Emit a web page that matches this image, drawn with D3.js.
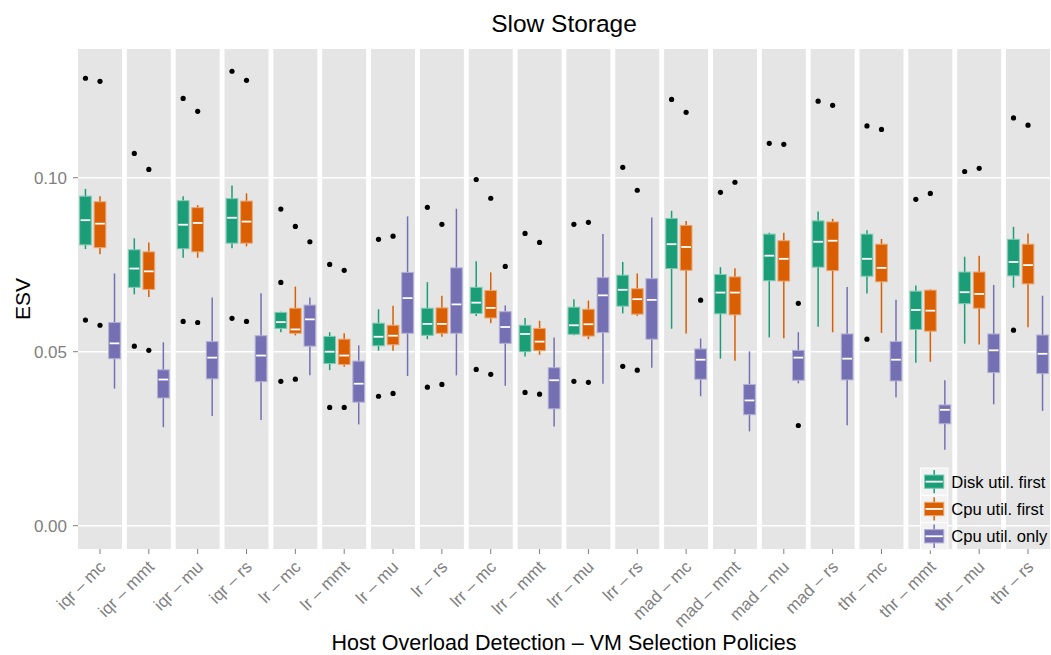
<!DOCTYPE html>
<html lang="en">

<head>
    <meta charset="UTF-8">
    <title>Slow Storage</title>
    <script src="https://d3js.org/d3.v7.min.js"></script>
    <style>
        body { margin: 0; background: #ffffff; }
        text { font-family: "Liberation Sans", Arial, sans-serif; }
    </style>
</head>

<body>
    <div id="chart"></div>
    <script>

        // categories (one facet each)
        const policies = [
            "iqr – mc", "iqr – mmt", "iqr – mu", "iqr – rs",
            "lr – mc", "lr – mmt", "lr – mu", "lr – rs",
            "lrr – mc", "lrr – mmt", "lrr – mu", "lrr – rs",
            "mad – mc", "mad – mmt", "mad – mu", "mad – rs",
            "thr – mc", "thr – mmt", "thr – mu", "thr – rs"
        ];
        const groups = ["Disk util. first", "Cpu util. first", "Cpu util. only"];
        const yTicks = [0, 0.05, 0.10];

        // [lower whisker, q1, median, q3, upper whisker] per policy
        const diskFirst = [
            [0.0795, 0.0807, 0.0878, 0.0947, 0.0968], [0.0665, 0.0685, 0.0739, 0.0793, 0.0826],
            [0.0770, 0.0796, 0.0865, 0.0934, 0.0947], [0.0797, 0.0812, 0.0885, 0.0940, 0.0978],
            [0.0556, 0.0567, 0.0585, 0.0613, 0.0615], [0.0447, 0.0466, 0.0500, 0.0544, 0.0556],
            [0.0503, 0.0517, 0.0543, 0.0582, 0.0622], [0.0536, 0.0547, 0.0580, 0.0625, 0.0700],
            [0.0603, 0.0610, 0.0641, 0.0685, 0.0760], [0.0486, 0.0500, 0.0551, 0.0576, 0.0597],
            [0.0547, 0.0550, 0.0576, 0.0628, 0.0651], [0.0610, 0.0631, 0.0678, 0.0720, 0.0758],
            [0.0566, 0.0739, 0.0809, 0.0883, 0.0905], [0.0480, 0.0609, 0.0670, 0.0722, 0.0743],
            [0.0541, 0.0704, 0.0776, 0.0838, 0.0842], [0.0572, 0.0743, 0.0816, 0.0876, 0.0903],
            [0.0667, 0.0717, 0.0767, 0.0838, 0.0849], [0.0468, 0.0564, 0.0620, 0.0674, 0.0690],
            [0.0523, 0.0638, 0.0671, 0.0729, 0.0773], [0.0684, 0.0718, 0.0758, 0.0823, 0.0859]
        ];
        const cpuFirst = [
            [0.0780, 0.0799, 0.0868, 0.0931, 0.0947], [0.0657, 0.0679, 0.0731, 0.0787, 0.0814],
            [0.0770, 0.0787, 0.0870, 0.0914, 0.0921], [0.0803, 0.0812, 0.0874, 0.0933, 0.0955],
            [0.0547, 0.0553, 0.0564, 0.0625, 0.0687], [0.0457, 0.0463, 0.0489, 0.0536, 0.0553],
            [0.0503, 0.0520, 0.0546, 0.0576, 0.0632], [0.0543, 0.0553, 0.0580, 0.0626, 0.0661],
            [0.0582, 0.0597, 0.0626, 0.0676, 0.0728], [0.0491, 0.0503, 0.0529, 0.0567, 0.0589],
            [0.0536, 0.0545, 0.0579, 0.0622, 0.0647], [0.0603, 0.0608, 0.0651, 0.0681, 0.0725],
            [0.0552, 0.0734, 0.0801, 0.0863, 0.0876], [0.0474, 0.0606, 0.0670, 0.0715, 0.0740],
            [0.0539, 0.0703, 0.0767, 0.0819, 0.0842], [0.0556, 0.0733, 0.0819, 0.0873, 0.0882],
            [0.0554, 0.0701, 0.0741, 0.0809, 0.0824], [0.0471, 0.0559, 0.0618, 0.0677, 0.0679],
            [0.0521, 0.0625, 0.0666, 0.0729, 0.0776], [0.0570, 0.0695, 0.0749, 0.0809, 0.0840]
        ];
        const cpuOnly = [
            [0.0394, 0.0480, 0.0524, 0.0584, 0.0725], [0.0283, 0.0367, 0.0420, 0.0448, 0.0527],
            [0.0315, 0.0422, 0.0483, 0.0529, 0.0656], [0.0304, 0.0414, 0.0489, 0.0546, 0.0668],
            [0.0432, 0.0516, 0.0593, 0.0634, 0.0656], [0.0291, 0.0355, 0.0408, 0.0473, 0.0518],
            [0.0430, 0.0553, 0.0654, 0.0728, 0.0889], [0.0432, 0.0553, 0.0636, 0.0741, 0.0911],
            [0.0402, 0.0524, 0.0571, 0.0615, 0.0633], [0.0285, 0.0336, 0.0418, 0.0454, 0.0541],
            [0.0408, 0.0555, 0.0662, 0.0713, 0.0838], [0.0454, 0.0536, 0.0649, 0.0710, 0.0886],
            [0.0372, 0.0421, 0.0477, 0.0508, 0.0538], [0.0271, 0.0319, 0.0360, 0.0406, 0.0501],
            [0.0409, 0.0418, 0.0483, 0.0504, 0.0556], [0.0289, 0.0419, 0.0480, 0.0551, 0.0686],
            [0.0369, 0.0416, 0.0477, 0.0529, 0.0649], [0.0218, 0.0293, 0.0333, 0.0347, 0.0418],
            [0.0349, 0.0440, 0.0504, 0.0551, 0.0692], [0.0330, 0.0437, 0.0494, 0.0548, 0.0661]
        ];

        // outliers per policy
        const diskFirstOut = [
            [0.1286, 0.0591], [0.1070, 0.0516], [0.1228, 0.0587], [0.1306, 0.0596],
            [0.0910, 0.0699, 0.0415], [0.0751, 0.0340], [0.0823, 0.0372], [0.0915, 0.0398],
            [0.0995, 0.0449], [0.0840, 0.0383], [0.0866, 0.0415], [0.1030, 0.0458],
            [0.1225], [0.0958], [0.1099], [0.1220],
            [0.1149, 0.0536], [0.0938], [0.1018], [0.1172, 0.0562]
        ];
        const cpuFirstOut = [
            [0.1277, 0.0576], [0.1024, 0.0504], [0.1191, 0.0584], [0.1280, 0.0587],
            [0.0860, 0.0421], [0.0734, 0.0340], [0.0832, 0.0380], [0.0866, 0.0406],
            [0.0941, 0.0435], [0.0814, 0.0378], [0.0872, 0.0412], [0.0964, 0.0447],
            [0.1188], [0.0987], [0.1096], [0.1208],
            [0.1139], [0.0955], [0.1027], [0.1151]
        ];
        const cpuOnlyOut = [
            [], [], [], [],
            [0.0816], [], [], [],
            [0.0745], [], [], [],
            [0.0648], [], [0.0639, 0.0288], [],
            [], [], [], []
        ];

        const colors = ["#1b9e77", "#d95f02", "#7570b3"];

        const width = 1051, height = 655;
        const margin = { top: 49, right: 1, bottom: 106, left: 78 };

        const svg = d3.select("#chart")
            .append("svg")
            .attr("width", width)
            .attr("height", height);

        // scales
        const x = d3.scaleBand()
            .domain(policies)
            .range([margin.left, width - margin.right])
            .paddingInner(0.1)
            .paddingOuter(0);

        const xg = d3.scaleBand()
            .domain(groups)
            .range([1.1, x.bandwidth() - 1.1])
            .paddingInner(0.124);

        const y = d3.scaleLinear()
            .domain([-0.0067, 0.137])
            .range([height - margin.bottom, margin.top]);

        const color = d3.scaleOrdinal().domain(groups).range(colors);
        const edge = g => d3.interpolateRgb(color(g), "#ffffff")(0.45);

        // build box rows
        const stats = [diskFirst, cpuFirst, cpuOnly];
        const outs = [diskFirstOut, cpuFirstOut, cpuOnlyOut];
        const boxes = [];
        const points = [];
        policies.forEach((p, i) => {
            groups.forEach((g, j) => {
                const s = stats[j][i];
                boxes.push({ policy: p, group: g, lo: s[0], q1: s[1], med: s[2], q3: s[3], hi: s[4] });
                outs[j][i].forEach(v => points.push({ policy: p, group: g, value: v }));
            });
        });

        // facet panels
        const facet = svg.selectAll(".facet")
            .data(policies)
            .join("g")
            .attr("class", "facet")
            .attr("transform", d => `translate(${x(d)},0)`);

        facet.append("rect")
            .attr("x", 0)
            .attr("y", margin.top)
            .attr("width", x.bandwidth())
            .attr("height", height - margin.bottom - margin.top)
            .attr("fill", "#e5e5e5");

        facet.selectAll(".grid")
            .data(yTicks)
            .join("line")
            .attr("class", "grid")
            .attr("x1", 0)
            .attr("x2", x.bandwidth())
            .attr("y1", d => y(d))
            .attr("y2", d => y(d))
            .attr("stroke", "#ffffff")
            .attr("stroke-width", 1.5);

        // boxes
        const bw = xg.bandwidth();
        const bx = d => x(d.policy) + xg(d.group);
        const cx = d => bx(d) + bw / 2;

        const box = svg.append("g").selectAll("g")
            .data(boxes)
            .join("g");

        box.append("line")
            .attr("x1", cx).attr("x2", cx)
            .attr("y1", d => y(d.hi)).attr("y2", d => y(d.lo))
            .attr("stroke", d => color(d.group))
            .attr("stroke-width", 1.5);

        box.append("rect")
            .attr("x", d => bx(d) + 0.5)
            .attr("width", bw - 1)
            .attr("y", d => y(d.q3))
            .attr("height", d => Math.max(1, y(d.q1) - y(d.q3)))
            .attr("fill", d => color(d.group))
            .attr("stroke", d => edge(d.group))
            .attr("stroke-width", 1);

        box.append("line")
            .attr("x1", d => bx(d) + 1.5)
            .attr("x2", d => bx(d) + bw - 1.5)
            .attr("y1", d => y(d.med)).attr("y2", d => y(d.med))
            .attr("stroke", "#ffffff")
            .attr("stroke-width", 1.8);

        // outliers
        svg.append("g").selectAll("circle")
            .data(points)
            .join("circle")
            .attr("cx", cx)
            .attr("cy", d => y(d.value))
            .attr("r", 2.6)
            .attr("fill", "#000000");

        // y axis
        const yAxis = svg.append("g");
        yAxis.selectAll("line")
            .data(yTicks)
            .join("line")
            .attr("x1", margin.left - 5).attr("x2", margin.left)
            .attr("y1", d => y(d)).attr("y2", d => y(d))
            .attr("stroke", "#7f7f7f")
            .attr("stroke-width", 1);
        yAxis.selectAll("text")
            .data(yTicks)
            .join("text")
            .attr("x", margin.left - 11)
            .attr("y", d => y(d))
            .attr("dy", "0.36em")
            .attr("text-anchor", "end")
            .attr("font-size", 17)
            .attr("fill", "#7f7f7f")
            .text(d3.format(".2f"));

        // x axis
        const xAxis = svg.append("g");
        const base = height - margin.bottom;
        xAxis.selectAll("line")
            .data(policies)
            .join("line")
            .attr("x1", d => x(d) + x.bandwidth() / 2)
            .attr("x2", d => x(d) + x.bandwidth() / 2)
            .attr("y1", base).attr("y2", base + 5)
            .attr("stroke", "#7f7f7f")
            .attr("stroke-width", 1);
        xAxis.selectAll("text")
            .data(policies)
            .join("text")
            .attr("transform", d => `translate(${x(d) + x.bandwidth() / 2 + 6.5},${base + 19}) rotate(-45)`)
            .attr("text-anchor", "end")
            .attr("font-size", 17)
            .attr("fill", "#7f7f7f")
            .text(d => d);

        // titles
        svg.append("text")
            .attr("x", (margin.left + width - margin.right) / 2)
            .attr("y", 32)
            .attr("text-anchor", "middle")
            .attr("font-size", 24.5)
            .text("Slow Storage");

        svg.append("text")
            .attr("x", (margin.left + width - margin.right) / 2)
            .attr("y", 650)
            .attr("text-anchor", "middle")
            .attr("font-size", 21.5)
            .text("Host Overload Detection – VM Selection Policies");

        svg.append("text")
            .attr("transform", `translate(29.5,${(margin.top + base) / 2}) rotate(-90)`)
            .attr("text-anchor", "middle")
            .attr("font-size", 21)
            .text("ESV");

        // legend
        const keySize = 27.3;
        const legend = svg.append("g")
            .attr("transform", "translate(920.5,468)");

        const key = legend.selectAll("g")
            .data(groups)
            .join("g")
            .attr("transform", (d, i) => `translate(0,${i * keySize})`);

        key.append("rect")
            .attr("width", keySize)
            .attr("height", keySize)
            .attr("fill", "#f2f2f2")
            .attr("stroke", "#ffffff")
            .attr("stroke-width", 1);

        key.append("line")
            .attr("x1", keySize / 2).attr("x2", keySize / 2)
            .attr("y1", 2).attr("y2", keySize - 2)
            .attr("stroke", d => color(d))
            .attr("stroke-width", 1.5);

        key.append("rect")
            .attr("x", 4).attr("y", 7)
            .attr("width", keySize - 8)
            .attr("height", keySize - 14)
            .attr("fill", d => color(d))
            .attr("stroke", d => edge(d))
            .attr("stroke-width", 1);

        key.append("line")
            .attr("x1", 5).attr("x2", keySize - 5)
            .attr("y1", keySize / 2).attr("y2", keySize / 2)
            .attr("stroke", "#ffffff")
            .attr("stroke-width", 1.8);

        key.append("text")
            .attr("x", keySize + 3.5)
            .attr("y", keySize / 2)
            .attr("dy", "0.36em")
            .attr("font-size", 16.6)
            .attr("fill", "#000000")
            .text(d => d);

    </script>

</body>

</html>
